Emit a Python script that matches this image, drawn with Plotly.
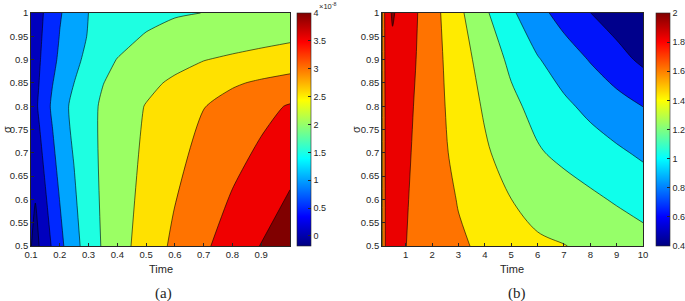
import plotly.graph_objects as go

# ---------------- panel (a): values in units of 1e-8 ----------------
time_a = [0.1, 0.115, 0.13, 0.15, 0.175, 0.2, 0.25, 0.3, 0.35, 0.4, 0.5, 0.6, 0.7, 0.8, 0.9, 1.0]
sigma_a = [0.5, 0.8, 0.85, 0.9, 0.95, 1.0]
za_s050 = [0.02, -0.18, 0.024, 0.262, 0.561, 0.866, 1.342, 1.722, 2.049, 2.294, 2.727, 3.098, 3.425, 3.725, 4.018, 4.31]
za_s080 = [0.23, 0.405, 0.583, 0.821, 1.085, 1.297, 1.625, 1.865, 2.068, 2.222, 2.523, 2.756, 2.988, 3.175, 3.358, 3.54]
za_s085 = [0.21, 0.365, 0.521, 0.729, 0.99, 1.162, 1.502, 1.745, 1.99, 2.121, 2.374, 2.589, 2.768, 2.946, 3.062, 3.15]
za_s090 = [0.194, 0.333, 0.472, 0.657, 0.889, 1.078, 1.38, 1.625, 1.833, 2.016, 2.172, 2.328, 2.484, 2.582, 2.674, 2.765]
za_s095 = [0.178, 0.305, 0.432, 0.602, 0.814, 1.016, 1.291, 1.531, 1.661, 1.792, 2.046, 2.092, 2.17, 2.246, 2.323, 2.40]
za_s100 = [0.153, 0.274, 0.395, 0.556, 0.758, 0.96, 1.237, 1.502, 1.66, 1.72, 1.80, 1.975, 2.003, 2.03, 2.055, 2.08]
za_min, za_max = -0.18, 4.0
levels_a = (0.0, 4.0, 0.5)
cbar_a_ticks = [0, 0.5, 1, 1.5, 2, 2.5, 3, 3.5, 4]
cbar_a_text = ["0", "0.5", "1", "1.5", "2", "2.5", "3", "3.5", "4"]
xticks_a = [0.1, 0.2, 0.3, 0.4, 0.5, 0.6, 0.7, 0.8, 0.9]
xtext_a = ["0.1", "0.2", "0.3", "0.4", "0.5", "0.6", "0.7", "0.8", "0.9"]

# ---------------- panel (b) ----------------
time_b = [0.1, 0.25, 0.5, 1, 1.5, 2, 3, 4, 5, 6, 7, 8, 9, 10]
sigma_b = [0.5, 0.6, 0.7, 0.8, 0.9, 1.0]
zb_s050 = [1.55, 1.85, 1.86, 1.802, 1.759, 1.715, 1.627, 1.565, 1.47, 1.424, 1.405, 1.368, 1.324, 1.28]
zb_s060 = [1.55, 1.86, 1.87, 1.812, 1.758, 1.702, 1.59, 1.495, 1.401, 1.345, 1.291, 1.236, 1.18, 1.12]
zb_s070 = [1.55, 1.87, 1.88, 1.83, 1.757, 1.684, 1.547, 1.425, 1.32, 1.22, 1.152, 1.091, 1.03, 0.97]
zb_s080 = [1.55, 1.88, 1.9, 1.85, 1.765, 1.678, 1.52, 1.378, 1.246, 1.136, 1.037, 0.952, 0.876, 0.798]
zb_s090 = [1.55, 1.9, 1.95, 1.88, 1.778, 1.677, 1.491, 1.32, 1.159, 1.014, 0.9, 0.788, 0.671, 0.56]
zb_s100 = [1.55, 1.92, 2.02, 1.9, 1.79, 1.675, 1.445, 1.232, 1.032, 0.861, 0.724, 0.602, 0.501, 0.40]
zb_min, zb_max = 0.4, 2.0
levels_b = (0.6, 2.0, 0.2)
cbar_b_ticks = [0.4, 0.6, 0.8, 1.0, 1.2, 1.4, 1.6, 1.8, 2.0]
cbar_b_text = ["0.4", "0.6", "0.8", "1", "1.2", "1.4", "1.6", "1.8", "2"]
xticks_b = [1, 2, 3, 4, 5, 6, 7, 8, 9, 10]
xtext_b = ["1", "2", "3", "4", "5", "6", "7", "8", "9", "10"]

yticks = [0.5, 0.55, 0.6, 0.65, 0.7, 0.75, 0.8, 0.85, 0.9, 0.95, 1.0]
ytext = ["0.5", "0.55", "0.6", "0.65", "0.7", "0.75", "0.8", "0.85", "0.9", "0.95", "1"]

za = [za_s050, za_s080, za_s085, za_s090, za_s095, za_s100]
zb = [zb_s050, zb_s060, zb_s070, zb_s080, zb_s090, zb_s100]

# ---------------- styles ----------------
W, H = 685, 301
AX = "rgb(38,38,38)"
FONT = "Liberation Sans, Arial, sans-serif"
SERIF = "Liberation Serif, Times New Roman, serif"
jet = [[0, "rgb(0,0,128)"], [0.125, "rgb(0,0,255)"], [0.375, "rgb(0,255,255)"],
       [0.625, "rgb(255,255,0)"], [0.875, "rgb(255,0,0)"], [1, "rgb(128,0,0)"]]
bands_a = ["rgb(0,0,140)", "rgb(0,0,190)", "rgb(0,40,255)", "rgb(0,165,255)", "rgb(30,255,225)",
           "rgb(155,255,100)", "rgb(255,225,0)", "rgb(255,115,0)", "rgb(240,0,0)", "rgb(128,0,0)"]
bands_b = ["rgb(0,0,140)", "rgb(0,20,250)", "rgb(0,145,255)", "rgb(15,255,235)", "rgb(150,255,105)",
           "rgb(255,235,0)", "rgb(255,115,0)", "rgb(235,0,0)", "rgb(128,0,0)"]


def step_scale(cols):
    n = len(cols) - 1
    return [[i / n, c] for i, c in enumerate(cols)]


def px_x(p):
    return p / W


def px_y(p):
    return 1 - p / H


fig = go.Figure()


def add_panel(xs, ys, z, zmin, zmax, lev, bands, cb_left, ticks, text, xa, ya, smooth):
    fig.add_trace(go.Heatmap(
        x=xs, y=ys, z=z, zmin=zmin, zmax=zmax, colorscale=jet, hoverinfo="skip",
        xaxis=xa, yaxis=ya, showscale=True,
        colorbar=dict(x=px_x(cb_left), xanchor="left", xpad=0, ypad=0,
                      y=px_y(246), yanchor="bottom", len=233, lenmode="pixels",
                      thickness=14, thicknessmode="pixels",
                      outlinewidth=0.6, outlinecolor=AX,
                      ticks="inside", ticklen=3, tickcolor=AX, tickwidth=0.6,
                      tickvals=ticks, ticktext=text,
                      tickfont=dict(family=FONT, size=9, color=AX))))
    fig.add_trace(go.Contour(
        x=xs, y=ys, z=z, autocontour=False,
        contours=dict(start=lev[0], end=lev[1], size=lev[2], coloring="fill", showlines=True),
        line=dict(color="black", width=0.6, smoothing=smooth),
        colorscale=step_scale(bands), showscale=False, hoverinfo="skip",
        xaxis=xa, yaxis=ya))


add_panel(time_a, sigma_a, za, za_min, za_max, levels_a, bands_a, 297, cbar_a_ticks, cbar_a_text, "x", "y", 0.6)
add_panel(time_b, sigma_b, zb, zb_min, zb_max, levels_b, bands_b, 656, cbar_b_ticks, cbar_b_text, "x2", "y2", 0.9)

axis_style = dict(showline=True, mirror=True, linecolor=AX, linewidth=0.6, ticks="inside",
                  ticklen=3, tickcolor=AX, tickwidth=0.6, showgrid=False, zeroline=False,
                  automargin=False, tickfont=dict(family=FONT, size=9.5, color=AX))

fig.update_layout(
    width=W, height=H, margin=dict(l=0, r=0, t=0, b=0, autoexpand=False),
    paper_bgcolor="white", plot_bgcolor="white", showlegend=False,
    xaxis=dict(domain=[px_x(31), px_x(290)], range=[0.1, 1.0], tickvals=xticks_a, ticktext=xtext_a,
               anchor="y", **axis_style),
    yaxis=dict(domain=[px_y(246), px_y(13)], range=[0.5, 1.0], tickvals=yticks, ticktext=ytext,
               anchor="x", **axis_style),
    xaxis2=dict(domain=[px_x(382), px_x(643)], range=[0.1, 10], tickvals=xticks_b, ticktext=xtext_b,
                anchor="y2", **axis_style),
    yaxis2=dict(domain=[px_y(246), px_y(13)], range=[0.5, 1.0], tickvals=yticks, ticktext=ytext,
                anchor="x2", **axis_style),
)

ann = [
    dict(text="Time", x=px_x(161), y=px_y(269), size=11, fam=FONT, ang=0),
    dict(text="Time", x=px_x(512), y=px_y(269), size=11, fam=FONT, ang=0),
    dict(text="σ", x=px_x(7), y=px_y(130), size=11, fam=FONT, ang=-90),
    dict(text="σ", x=px_x(356), y=px_y(130), size=11, fam=FONT, ang=-90),
    dict(text="(a)", x=px_x(163), y=px_y(293), size=15, fam=SERIF, ang=0),
    dict(text="(b)", x=px_x(517), y=px_y(293), size=15, fam=SERIF, ang=0),
]
for a in ann:
    fig.add_annotation(text=a["text"], x=a["x"], y=a["y"], xref="paper", yref="paper",
                       xanchor="center", yanchor="middle", showarrow=False, textangle=a["ang"],
                       font=dict(family=a["fam"], size=a["size"], color=AX))
fig.add_annotation(text="×10<sup>-8</sup>", x=px_x(318), y=px_y(0), xref="paper", yref="paper",
                   xanchor="left", yanchor="top", showarrow=False, borderpad=0,
                   font=dict(family=FONT, size=7.5, color=AX))

fig.write_html("out.html", config={"displayModeBar": False},
               post_script="document.body.style.margin='0';")
